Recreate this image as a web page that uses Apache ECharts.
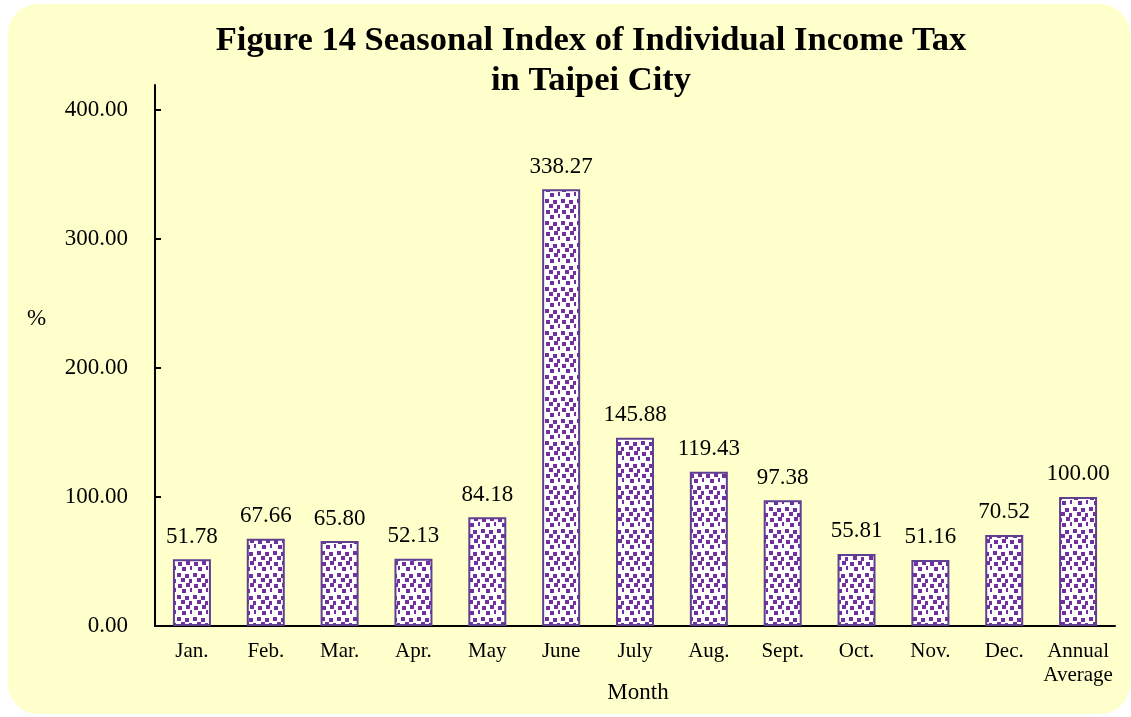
<!DOCTYPE html>
<html>
<head>
<meta charset="UTF-8">
<title>Figure 14</title>
<script src="https://cdn.jsdelivr.net/npm/echarts@6/dist/echarts.min.js"></script>
<style>
  html, body { margin: 0; padding: 0; background: #ffffff; }
  #chart { width: 1131px; height: 717px; }
</style>
</head>
<body>
<div id="chart"></div>
<script>
// data
var months = ['Jan.', 'Feb.', 'Mar.', 'Apr.', 'May', 'June', 'July', 'Aug.', 'Sept.', 'Oct.', 'Nov.', 'Dec.', 'Annual\nAverage'];
var seasonalIndex = [51.78, 67.66, 65.80, 52.13, 84.18, 338.27, 145.88, 119.43, 97.38, 55.81, 51.16, 70.52, 100.00];
var yTicks = [0, 100, 200, 300, 400];

// confetti fill for the bars
var tile = document.createElement('canvas');
tile.width = 16;
tile.height = 22;
var ctx = tile.getContext('2d');
ctx.fillStyle = '#ffffff';
ctx.fillRect(0, 0, 16, 22);
ctx.fillStyle = '#7030a0';
[[1, 1], [9, 2], [5, 6], [13, 7], [2, 12], [10, 11], [6, 17], [14, 16]].forEach(function (p) {
  ctx.fillRect(p[0], p[1], 4, 4);
});

var serif = '"Liberation Serif", "Times New Roman", serif';

var myChart = echarts.init(document.getElementById('chart'));
var option = {
  backgroundColor: '#ffffff',
  animation: false,
  title: {
    text: 'Figure 14 Seasonal Index of Individual Income Tax\nin Taipei City',
    left: 586,
    textAlign: 'center',
    top: 16,
    textStyle: { fontFamily: serif, fontWeight: 'bold', fontSize: 34.5, lineHeight: 40, color: '#000' }
  },
  graphic: [
    {
      type: 'rect', z: -10, silent: true,
      shape: { x: 8, y: 4, width: 1122, height: 710, r: 30 },
      style: { fill: '#ffffcc' }
    },
    {
      type: 'text', left: 27, top: 307,
      style: { text: '%', font: '23px ' + serif, fill: '#000' }
    },
    {
      type: 'text', x: 638, y: 693,
      style: { text: 'Month', font: '23px ' + serif, fill: '#000', textAlign: 'center', textVerticalAlign: 'middle' }
    }
  ],
  grid: { left: 155, right: 16, top: 85, bottom: 91, outerBoundsMode: 'none', containLabel: false },
  xAxis: {
    type: 'category',
    data: months,
    axisLine: { lineStyle: { color: '#000', width: 2 } },
    axisTick: { inside: true, length: 6, lineStyle: { color: '#000', width: 2 } },
    axisLabel: { fontFamily: serif, fontSize: 21, color: '#000', margin: 13, lineHeight: 24, interval: 0 }
  },
  yAxis: {
    type: 'value',
    min: yTicks[0],
    max: 419,
    interval: 100,
    splitLine: { show: false },
    axisLine: { show: true, lineStyle: { color: '#000', width: 2 } },
    axisTick: { show: true, inside: true, length: 6, lineStyle: { color: '#000', width: 2 } },
    axisLabel: {
      fontFamily: serif, fontSize: 23, color: '#000', margin: 27, showMaxLabel: false,
      formatter: function (v) { return yTicks.indexOf(v) >= 0 ? v.toFixed(2) : ''; }
    }
  },
  series: [
    {
      type: 'bar',
      data: seasonalIndex,
      barWidth: 38,
      itemStyle: {
        color: { image: tile, repeat: 'repeat' },
        borderColor: '#5f3f8f',
        borderWidth: 2
      },
      label: {
        show: true,
        position: 'top',
        distance: 11,
        fontFamily: serif,
        fontSize: 23,
        color: '#000',
        formatter: function (p) { return p.value.toFixed(2); }
      }
    }
  ]
};
myChart.setOption(option);
</script>
</body>
</html>
